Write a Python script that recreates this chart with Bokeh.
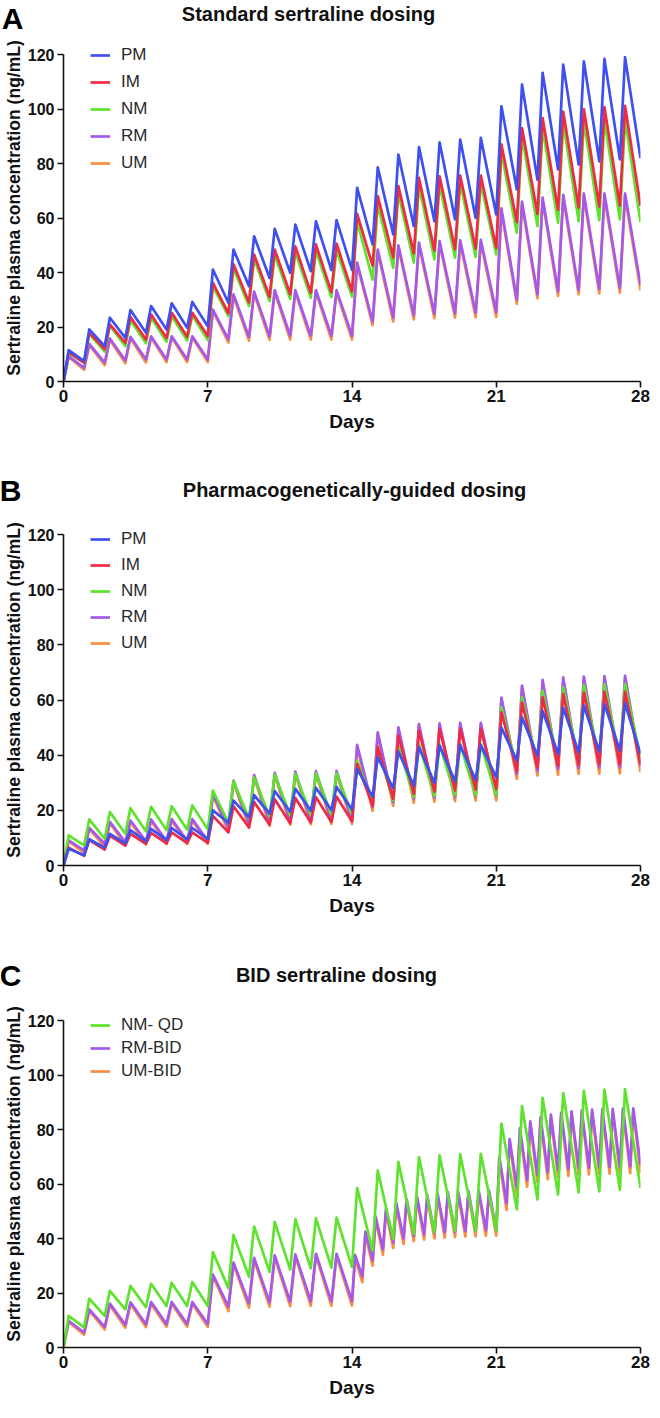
from bokeh.plotting import figure
from bokeh.models import Range1d, FixedTicker, Legend, LegendItem, Label
from bokeh.layouts import column
from bokeh.embed import file_html
from bokeh.resources import INLINE

# ---------------- data ----------------
QD_DAYS = [0, 1, 2, 3, 4, 5, 6, 7, 8, 9, 10, 11, 12, 13,
           14, 15, 16, 17, 18, 19, 20, 21, 22, 23, 24, 25, 26, 27]
QD_DAYS_FIRST2W = [0, 1, 2, 3, 4, 5, 6, 7, 8, 9, 10, 11, 12, 13]
BID_TIMES = [14.0, 14.5, 15.0, 15.5, 16.0, 16.5, 17.0, 17.5, 18.0, 18.5, 19.0, 19.5, 20.0, 20.5,
             21.0, 21.5, 22.0, 22.5, 23.0, 23.5, 24.0, 24.5, 25.0, 25.5, 26.0, 26.5, 27.0, 27.5]
END_DAY = 28
TMAX_QD = 0.25   # time to peak after a once-daily dose (days)
TMAX_BID = 0.15  # time to peak after a twice-daily dose (days)

X_TICKS = [0, 7, 14, 21, 28]
Y_TICKS = [0, 20, 40, 60, 80, 100, 120]

# Panel A: standard dosing  (peaks per dose, troughs at each dose time + end)
A_PM_PK = [11.5, 19.1, 23.4, 26.2, 27.7, 28.7, 29.2, 41.1, 48.4, 53.3, 56.0, 57.6, 58.8, 59.2,
           71.1, 78.6, 83.3, 86.0, 87.8, 88.8, 89.4, 101.0, 109.0, 113.3, 116.3, 117.5, 118.4, 119.0]
A_PM_TR = [0.0, 7.5, 13.0, 16.0, 17.9, 19.1, 19.7, 20.3, 28.9, 35.0, 38.0, 39.9, 40.5, 40.9,
           41.0, 50.3, 54.0, 57.0, 58.8, 59.5, 60.0, 61.3, 70.5, 74.0, 77.8, 79.6, 80.8, 81.5, 82.0]
A_IM_PK = [10.8, 17.9, 21.0, 23.7, 24.6, 25.2, 25.2, 36.2, 43.0, 46.6, 48.4, 49.6, 50.3, 50.6,
           61.5, 68.0, 71.7, 74.7, 75.3, 75.6, 75.6, 87.0, 93.0, 96.7, 99.0, 100.0, 100.7, 101.2]
A_IM_TR = [0.0, 6.9, 11.8, 14.2, 15.4, 16.0, 16.4, 16.7, 25.0, 29.0, 31.0, 32.0, 32.5, 32.8,
           33.0, 42.5, 45.5, 47.0, 48.0, 48.5, 48.8, 49.0, 58.5, 61.5, 63.0, 63.8, 64.2, 64.5, 64.5]
A_NM_PK = [10.5, 17.5, 20.5, 22.5, 23.5, 24.0, 24.3, 35.0, 41.5, 45.0, 46.5, 47.5, 48.0, 48.2,
           58.8, 65.0, 69.2, 71.7, 72.3, 72.9, 72.9, 84.0, 90.0, 93.0, 95.0, 95.5, 95.9, 96.1]
A_NM_TR = [0.0, 6.8, 11.0, 13.0, 14.0, 14.6, 15.0, 15.2, 24.0, 27.7, 29.5, 30.3, 30.7, 31.0,
           31.2, 37.4, 41.7, 43.6, 44.8, 45.4, 45.7, 46.6, 54.5, 57.0, 58.2, 58.8, 59.2, 59.5, 58.5]
A_RM_PK = [9.3, 13.8, 15.8, 16.4, 16.6, 16.6, 16.6, 26.4, 32.0, 33.0, 33.5, 33.5, 33.5, 33.5,
           43.6, 48.4, 50.0, 51.0, 51.5, 51.8, 52.0, 63.5, 66.0, 67.5, 68.5, 69.0, 69.0, 69.0]
A_RM_TR = [0.0, 5.0, 6.9, 7.7, 8.1, 8.1, 8.1, 8.1, 15.5, 16.3, 16.6, 16.8, 16.8, 16.8,
           16.8, 22.0, 23.5, 24.3, 24.8, 25.0, 25.2, 25.4, 30.0, 32.0, 33.0, 33.6, 34.0, 34.3, 35.5]
A_UM_PK = [9.0, 13.4, 15.3, 15.9, 16.1, 16.1, 16.1, 26.0, 31.4, 32.4, 32.8, 32.8, 32.8, 32.8,
           43.0, 47.6, 49.2, 50.1, 50.6, 50.9, 51.0, 62.5, 65.0, 66.4, 67.4, 67.8, 67.8, 67.8]
A_UM_TR = [0.0, 4.3, 6.0, 6.7, 7.0, 7.1, 7.1, 7.1, 14.3, 15.0, 15.3, 15.4, 15.4, 15.4,
           15.4, 20.7, 22.0, 22.8, 23.2, 23.4, 23.6, 23.7, 28.5, 30.5, 31.4, 32.0, 32.3, 32.6, 33.5]

# Panel B: pharmacogenetically-guided dosing
B_PM_PK = [6.1, 9.5, 11.5, 12.8, 13.3, 13.6, 13.6, 20.0, 23.5, 25.5, 27.0, 27.8, 28.2, 28.5,
           35.0, 39.2, 41.3, 42.9, 43.5, 43.7, 43.7, 50.0, 53.7, 56.0, 57.2, 58.0, 58.5, 58.8]
B_PM_TR = [0.0, 3.7, 6.5, 8.0, 8.8, 9.2, 9.5, 9.6, 15.5, 17.5, 18.8, 19.5, 19.9, 20.1,
           20.3, 25.0, 28.0, 29.0, 30.0, 30.5, 31.0, 32.0, 38.0, 39.8, 40.4, 41.0, 41.3, 41.6, 40.5]
B_IM_PK = [6.5, 9.2, 10.8, 11.5, 11.8, 12.0, 12.0, 18.0, 21.5, 23.0, 24.0, 24.5, 24.8, 25.0,
           36.8, 42.9, 47.1, 48.9, 49.5, 49.5, 49.5, 55.5, 59.1, 61.0, 62.1, 62.7, 63.0, 63.0]
B_IM_TR = [0.0, 3.5, 5.8, 7.2, 7.8, 8.0, 8.1, 8.2, 12.0, 13.8, 14.8, 15.3, 15.6, 15.8,
           16.0, 21.7, 24.2, 26.0, 26.8, 27.2, 27.5, 27.8, 34.4, 35.6, 36.2, 36.5, 36.8, 36.8, 36.8]
B_NM_PK = [10.9, 16.7, 19.4, 20.8, 21.3, 21.5, 21.8, 27.2, 30.5, 32.0, 33.0, 33.3, 33.5, 33.5,
           38.0, 42.2, 43.5, 44.0, 44.0, 44.0, 44.0, 57.3, 61.0, 63.4, 64.6, 65.4, 65.8, 65.8]
B_NM_TR = [0.0, 7.3, 9.7, 11.5, 12.4, 12.8, 13.0, 13.1, 15.5, 17.0, 17.8, 18.2, 18.4, 18.5,
           18.5, 22.4, 23.6, 24.8, 25.2, 25.4, 25.4, 25.4, 35.6, 36.8, 37.4, 38.0, 38.3, 38.6, 38.9]
B_RM_PK = [9.1, 13.6, 15.8, 16.3, 16.7, 16.8, 16.8, 26.0, 30.8, 32.8, 33.6, 34.0, 34.2, 34.3,
           43.7, 48.3, 50.1, 51.3, 51.5, 51.7, 51.7, 60.9, 65.2, 67.3, 68.2, 68.5, 68.7, 68.8]
B_RM_TR = [0.0, 5.5, 7.9, 8.5, 8.8, 8.9, 9.0, 9.0, 13.5, 15.0, 15.6, 16.0, 16.2, 16.3,
           16.3, 21.2, 23.0, 24.2, 24.6, 24.8, 25.0, 25.2, 33.2, 34.4, 35.0, 35.3, 35.6, 35.6, 36.2]
B_UM_PK = [8.8, 13.2, 15.3, 15.8, 16.2, 16.3, 16.3, 25.5, 30.2, 32.1, 32.9, 33.3, 33.5, 33.6,
           43.0, 47.6, 49.3, 50.5, 50.7, 50.9, 50.9, 60.2, 64.4, 66.5, 67.4, 67.7, 67.9, 68.0]
B_UM_TR = [0.0, 4.6, 6.8, 7.4, 7.7, 7.8, 7.9, 7.9, 12.3, 13.8, 14.4, 14.8, 15.0, 15.1,
           15.1, 19.8, 21.6, 22.7, 23.1, 23.3, 23.5, 23.6, 31.4, 32.6, 32.8, 33.2, 33.3, 33.4, 33.8]

# Panel C: BID sertraline dosing
C_NM_PK = [11.6, 17.9, 20.8, 22.6, 23.4, 23.7, 24.0, 35.0, 41.3, 44.4, 46.1, 47.1, 47.4, 47.7,
           58.5, 64.9, 68.1, 69.9, 70.5, 70.9, 71.1, 82.2, 88.6, 91.6, 93.4, 94.2, 94.6, 94.8]
C_NM_TR = [0.0, 7.4, 11.6, 14.0, 14.8, 15.2, 15.2, 15.2, 21.8, 26.0, 27.8, 28.6, 29.0, 29.3,
           29.6, 35.6, 39.8, 41.6, 42.2, 42.9, 42.9, 42.9, 50.7, 54.3, 56.1, 56.9, 57.3, 57.9, 58.5]
C_RM_QD_PK = [9.8, 14.0, 16.1, 16.6, 16.7, 16.7, 16.7, 26.8, 31.2, 32.9, 33.8, 34.2, 34.4, 34.4]
C_RM_QD_TR = [0.0, 5.5, 7.6, 8.3, 8.5, 8.6, 8.6, 8.6, 15.0, 16.2, 16.6, 16.8, 16.9, 16.9]
C_RM_BID_PK = [34.0, 42.5, 48.0, 51.0, 53.0, 54.5, 55.5, 56.0, 56.5, 57.0, 57.2, 57.4, 57.5, 57.6,
               70.0, 76.5, 80.5, 83.0, 84.5, 85.5, 86.2, 86.7, 87.0, 87.3, 87.5, 87.6, 87.7, 87.8]
C_RM_BID_TR = [17.0, 26.0, 32.0, 36.0, 38.5, 40.0, 41.0, 41.5, 42.0, 42.3, 42.5, 42.7, 42.8, 43.0,
               43.0, 53.0, 58.5, 61.5, 63.2, 64.3, 65.0, 65.5, 65.8, 66.0, 66.2, 66.3, 66.4, 66.5, 67.0]
C_UM_QD_PK = [9.4, 13.5, 15.5, 16.0, 16.1, 16.1, 16.1, 26.3, 30.6, 32.2, 33.1, 33.5, 33.7, 33.7]
C_UM_QD_TR = [0.0, 4.7, 6.6, 7.3, 7.5, 7.6, 7.6, 7.6, 13.4, 14.6, 15.0, 15.2, 15.3, 15.3]
C_UM_BID_PK = [33.0, 41.5, 47.0, 50.0, 52.0, 53.5, 54.5, 55.0, 55.5, 56.0, 56.2, 56.4, 56.5, 56.6,
               69.0, 75.5, 79.5, 82.0, 83.5, 84.5, 85.2, 85.7, 86.0, 86.3, 86.5, 86.6, 86.7, 86.8]
C_UM_BID_TR = [15.4, 24.0, 30.0, 34.0, 36.5, 38.0, 39.0, 39.6, 40.0, 40.3, 40.5, 40.7, 40.8, 41.0,
               41.0, 50.5, 56.0, 59.0, 60.7, 61.8, 62.5, 63.0, 63.3, 63.5, 63.7, 63.8, 63.9, 64.0, 64.0]

# ---------------- styling / layout ----------------
FONT = "Liberation Sans"
C_PM = "#3e50f0"
C_IM = "#f02a44"
C_NM = "#5fe22e"
C_RM = "#a458ec"
C_UM = "#f98e3e"
LINE_W = 2.7

PAGE_W = 652
BORDER_L, BORDER_R = 57, 12
PAGE_X0 = 8


def trace(times, troughs, peaks, tmax):
    xs, ys = [], []
    for i, t in enumerate(times):
        tm = tmax[i] if isinstance(tmax, list) else tmax
        xs += [t, t + tm]
        ys += [troughs[i], peaks[i]]
    xs.append(END_DAY)
    ys.append(troughs[len(times)])
    return xs, ys


def no_align(fig):
    if "frame_align" in fig.properties():
        fig.frame_align = False


def make_header(letter, title, page_top, h, letter_cx, letter_cy, title_cx, title_cy):
    hp = figure(width=PAGE_W, height=h, output_backend="svg", toolbar_location=None,
                x_range=Range1d(0, PAGE_W), y_range=Range1d(0, h),
                x_axis_type=None, y_axis_type=None, min_border=0)
    no_align(hp)
    hp.outline_line_color = None
    hp.background_fill_color = "white"
    hp.border_fill_color = "white"
    hp.add_layout(Label(x=letter_cx - PAGE_X0, y=page_top + h - letter_cy, text=letter,
                        text_font=FONT, text_font_size="30px", text_font_style="bold",
                        text_color="#000000", text_align="center", text_baseline="middle"))
    hp.add_layout(Label(x=title_cx - PAGE_X0, y=page_top + h - title_cy, text=title,
                        text_font=FONT, text_font_size="20px", text_font_style="bold",
                        text_color="#111111", text_align="center", text_baseline="middle"))
    return hp


def make_panel(series, legend_labels, page_top, gap_top, px_120, border_bottom,
               legend_first_cy, legend_spacing):
    frame_h = gap_top + px_120
    height = frame_h + border_bottom
    y_top = 120.0 * frame_h / px_120
    p = figure(width=PAGE_W, height=height, output_backend="svg", toolbar_location=None,
               x_range=Range1d(0, 28), y_range=Range1d(0, y_top),
               min_border_left=BORDER_L, min_border_right=BORDER_R,
               min_border_top=0, min_border_bottom=border_bottom)
    no_align(p)
    p.outline_line_color = None
    p.xgrid.visible = False
    p.ygrid.visible = False
    p.background_fill_color = "white"
    p.border_fill_color = "white"

    renderers = {}
    for (name, xs, ys, color) in series:
        r = p.line(xs, ys, line_color=color, line_width=LINE_W, line_join="round")
        renderers[name] = r

    p.xaxis.ticker = FixedTicker(ticks=X_TICKS)
    p.yaxis.ticker = FixedTicker(ticks=Y_TICKS)
    p.yaxis.bounds = (0, 120)
    p.xaxis.axis_label = "Days"
    p.yaxis.axis_label = "Sertraline plasma concentration (ng/mL)"
    for ax in p.axis:
        ax.axis_line_color = "#111111"
        ax.axis_line_width = 1.6
        ax.major_tick_line_color = "#111111"
        ax.major_tick_line_width = 1.6
        ax.major_tick_out = 6
        ax.major_tick_in = 0
        ax.minor_tick_line_color = None
        ax.major_label_text_font = FONT
        ax.major_label_text_font_style = "bold"
        ax.major_label_text_color = "#111111"
        ax.axis_label_text_font = FONT
        ax.axis_label_text_font_style = "bold"
        ax.axis_label_text_color = "#111111"
    p.xaxis.major_label_text_font_size = "17px"
    p.xaxis.major_label_standoff = 2
    p.xaxis.axis_label_text_font_size = "19px"
    p.xaxis.axis_label_standoff = 6
    p.yaxis.major_label_text_font_size = "16px"
    p.yaxis.major_label_standoff = 3
    p.yaxis.axis_label_text_font_size = "17.5px"
    p.yaxis.axis_label_standoff = 1

    frame_left = PAGE_X0 + BORDER_L
    frame_bottom = page_top + frame_h
    item_h = 20
    n = len(legend_labels)
    leg_h = n * item_h + (n - 1) * legend_spacing
    leg_bottom = legend_first_cy - item_h / 2 + leg_h
    swatch_left = 92
    legend = Legend(items=[LegendItem(label=lab, renderers=[renderers[lab]]) for lab in legend_labels],
                    location=(swatch_left - frame_left, frame_bottom - leg_bottom),
                    padding=0, margin=0, spacing=legend_spacing,
                    glyph_width=20, glyph_height=item_h, label_height=item_h,
                    label_standoff=11, label_text_font=FONT, label_text_font_size="17px",
                    label_text_color="#2a2a2a",
                    border_line_color=None, background_fill_alpha=0)
    p.add_layout(legend)
    return p


# Panel A
hA = make_header("A", "Standard sertraline dosing", page_top=8, h=34,
                 letter_cx=20, letter_cy=26, title_cx=316, title_cy=21)
a_series = [
    ("UM", *trace(QD_DAYS, A_UM_TR, A_UM_PK, TMAX_QD), C_UM),
    ("RM", *trace(QD_DAYS, A_RM_TR, A_RM_PK, TMAX_QD), C_RM),
    ("NM", *trace(QD_DAYS, A_NM_TR, A_NM_PK, TMAX_QD), C_NM),
    ("IM", *trace(QD_DAYS, A_IM_TR, A_IM_PK, TMAX_QD), C_IM),
    ("PM", *trace(QD_DAYS, A_PM_TR, A_PM_PK, TMAX_QD), C_PM),
]
pA = make_panel(a_series, ["PM", "IM", "NM", "RM", "UM"],
                page_top=42, gap_top=20, px_120=327, border_bottom=55,
                legend_first_cy=63, legend_spacing=7)

# Panel B
hB = make_header("B", "Pharmacogenetically-guided dosing", page_top=444, h=78,
                 letter_cx=18, letter_cy=498, title_cx=362, title_cy=497)
b_series = [
    ("UM", *trace(QD_DAYS, B_UM_TR, B_UM_PK, TMAX_QD), C_UM),
    ("RM", *trace(QD_DAYS, B_RM_TR, B_RM_PK, TMAX_QD), C_RM),
    ("NM", *trace(QD_DAYS, B_NM_TR, B_NM_PK, TMAX_QD), C_NM),
    ("IM", *trace(QD_DAYS, B_IM_TR, B_IM_PK, TMAX_QD), C_IM),
    ("PM", *trace(QD_DAYS, B_PM_TR, B_PM_PK, TMAX_QD), C_PM),
]
pB = make_panel(b_series, ["PM", "IM", "NM", "RM", "UM"],
                page_top=522, gap_top=20, px_120=331, border_bottom=55,
                legend_first_cy=547, legend_spacing=6)

# Panel C
hC = make_header("C", "BID sertraline dosing", page_top=928, h=80,
                 letter_cx=18, letter_cy=983, title_cx=344, title_cy=982)
rm_times = QD_DAYS_FIRST2W + BID_TIMES
rm_tmax = [TMAX_QD] * len(QD_DAYS_FIRST2W) + [TMAX_BID] * len(BID_TIMES)
c_series = [
    ("UM-BID", *trace(rm_times, C_UM_QD_TR + C_UM_BID_TR, C_UM_QD_PK + C_UM_BID_PK, rm_tmax), C_UM),
    ("RM-BID", *trace(rm_times, C_RM_QD_TR + C_RM_BID_TR, C_RM_QD_PK + C_RM_BID_PK, rm_tmax), C_RM),
    ("NM- QD", *trace(QD_DAYS, C_NM_TR, C_NM_PK, TMAX_QD), C_NM),
]
pC = make_panel(c_series, ["NM- QD", "RM-BID", "UM-BID"],
                page_top=1008, gap_top=20, px_120=327, border_bottom=55,
                legend_first_cy=1033, legend_spacing=3)

layout = column(hA, pA, hB, pB, hC, pC, spacing=0)
open("out.html", "w").write(file_html(layout, INLINE))
